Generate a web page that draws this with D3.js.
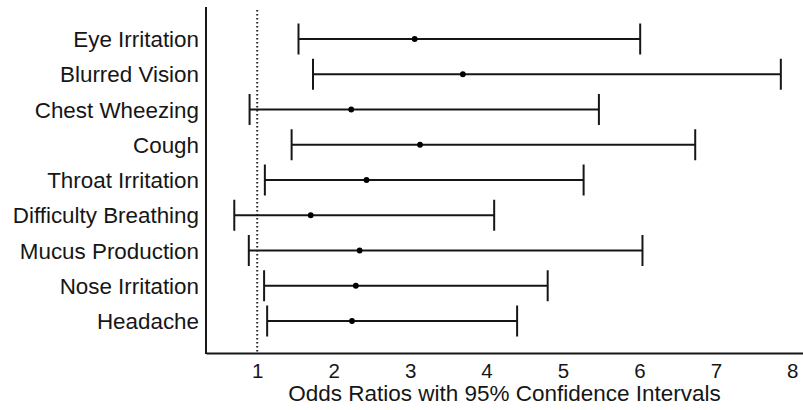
<!DOCTYPE html>
<html>
<head>
<meta charset="utf-8">
<script src="https://cdn.jsdelivr.net/npm/d3@7"></script>
<style>
  body { margin: 0; background: #fff; }
  svg { display: block; font-family: "Liberation Sans", Arial, sans-serif; }
</style>
</head>
<body>
<div id="chart"></div>
<script>
// chart data
const SYMPTOMS = ["Eye Irritation", "Blurred Vision", "Chest Wheezing", "Cough", "Throat Irritation",
                  "Difficulty Breathing", "Mucus Production", "Nose Irritation", "Headache"];
const ODDS_RATIOS = [3.06, 3.69, 2.23, 3.13, 2.43, 1.70, 2.34, 2.29, 2.24];
const CI_LOWER = [1.54, 1.73, 0.90, 1.45, 1.10, 0.70, 0.89, 1.09, 1.13];
const CI_UPPER = [6.01, 7.85, 5.47, 6.73, 5.27, 4.10, 6.04, 4.80, 4.40];
const X_TICKS = [1, 2, 3, 4, 5, 6, 7, 8];
const REF_LINE = 1;
const X_TITLE = "Odds Ratios with 95% Confidence Intervals";

// frame
const FRAME_WIDTH = 803;
const FRAME_HEIGHT = 410;
const MARGINS = {left: 206, right: 0, top: 7, bottom: 57};
const INK = "#161616";
const CAP = 15.5;

const FRAME = d3.select("#chart")
                .append("svg")
                  .attr("width", FRAME_WIDTH)
                  .attr("height", FRAME_HEIGHT);

const X_SCALE = d3.scaleLinear()
                  .domain([0.33, 8.14])
                  .range([MARGINS.left, FRAME_WIDTH - MARGINS.right]);

const Y_SCALE = d3.scalePoint()
                  .domain(SYMPTOMS)
                  .range([MARGINS.top, FRAME_HEIGHT - MARGINS.bottom])
                  .padding(0.908);

const rows = SYMPTOMS.map((s, i) => ({name: s, or: ODDS_RATIOS[i], lo: CI_LOWER[i], hi: CI_UPPER[i]}));

// x axis (no tick marks)
const xAxis = FRAME.append("g")
                .attr("transform", "translate(0," + (FRAME_HEIGHT - MARGINS.bottom) + ")")
                .call(d3.axisBottom(X_SCALE).tickValues(X_TICKS).tickSize(0).tickSizeOuter(0).tickPadding(10));
xAxis.select(".domain").attr("stroke", INK).attr("stroke-width", 2);
xAxis.selectAll("text")
       .attr("font-size", "20.5px")
       .attr("font-family", "Liberation Sans, Arial, sans-serif")
       .attr("fill", INK);

// y axis (labels only, plus the line)
const yAxis = FRAME.append("g")
                .attr("transform", "translate(" + MARGINS.left + ",0)")
                .call(d3.axisLeft(Y_SCALE).tickSize(0).tickSizeOuter(0).tickPadding(7));
yAxis.select(".domain").remove();
yAxis.selectAll("text")
       .attr("font-size", "22.4px")
       .attr("dy", "0.34em")
       .attr("font-family", "Liberation Sans, Arial, sans-serif")
       .attr("fill", INK);
FRAME.append("line")
       .attr("x1", MARGINS.left).attr("x2", MARGINS.left)
       .attr("y1", MARGINS.top).attr("y2", FRAME_HEIGHT - MARGINS.bottom + 1)
       .attr("stroke", INK)
       .attr("stroke-width", 2);

// axis title
FRAME.append("text")
       .attr("x", (X_SCALE.range()[0] + X_SCALE.range()[1]) / 2)
       .attr("y", 401)
       .attr("text-anchor", "middle")
       .attr("font-size", "22.5px")
       .attr("fill", INK)
       .text(X_TITLE);

// dotted reference line at OR = 1
FRAME.append("line")
       .attr("x1", X_SCALE(REF_LINE)).attr("x2", X_SCALE(REF_LINE))
       .attr("y1", 10).attr("y2", FRAME_HEIGHT - MARGINS.bottom - 1)
       .attr("stroke", "#222")
       .attr("stroke-width", 2)
       .attr("stroke-dasharray", "1.6,2.4");

// confidence interval lines
const bars = FRAME.selectAll(".ci")
                .data(rows)
                .enter()
                .append("g")
                  .attr("class", "ci");

bars.append("line")
      .attr("x1", (d) => X_SCALE(d.lo))
      .attr("x2", (d) => X_SCALE(d.hi))
      .attr("y1", (d) => Y_SCALE(d.name))
      .attr("y2", (d) => Y_SCALE(d.name))
      .attr("stroke", INK)
      .attr("stroke-width", 2);

// caps at both ends
["lo", "hi"].forEach((k) => {
  bars.append("line")
        .attr("x1", (d) => X_SCALE(d[k]))
        .attr("x2", (d) => X_SCALE(d[k]))
        .attr("y1", (d) => Y_SCALE(d.name) - CAP)
        .attr("y2", (d) => Y_SCALE(d.name) + CAP)
        .attr("stroke", INK)
        .attr("stroke-width", 2);
});

// point estimates
bars.append("circle")
      .attr("cx", (d) => X_SCALE(d.or))
      .attr("cy", (d) => Y_SCALE(d.name))
      .attr("r", 2.9)
      .attr("fill", "#000");
</script>
</body>
</html>
